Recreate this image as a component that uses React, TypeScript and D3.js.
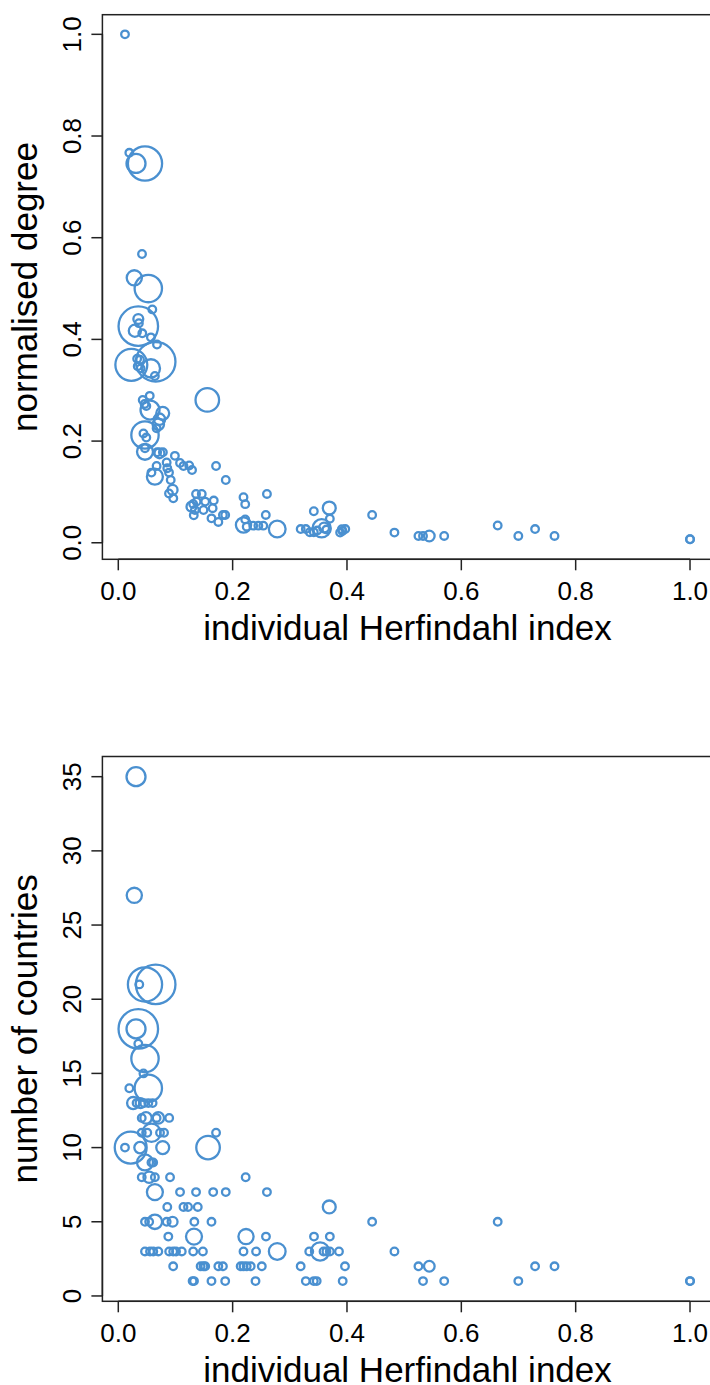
import React from "react";
import * as d3 from "d3";

// ---------- data ----------
const xTicks = [0, 0.2, 0.4, 0.6, 0.8, 1.0];
const degreeTicks = [0, 0.2, 0.4, 0.6, 0.8, 1.0];
const countryTicks = [0, 5, 10, 15, 20, 25, 30, 35];

// top panel: individual Herfindahl index vs normalised degree
const herfTop = [
  0.0117, 0.0193, 0.031, 0.0467, 0.0415, 0.028, 0.0525, 0.0595, 0.035, 0.035,
  0.036, 0.029, 0.042, 0.057, 0.0677, 0.0228, 0.0654, 0.033, 0.038, 0.034,
  0.039, 0.057, 0.064, 0.055, 0.0427, 0.046, 0.049, 0.0555, 0.0777, 0.072,
  0.07, 0.067, 0.1557, 0.0467, 0.044, 0.049, 0.0467, 0.0467, 0.068, 0.072,
  0.078, 0.099, 0.0846, 0.108, 0.114, 0.124, 0.129, 0.171, 0.188, 0.067,
  0.058, 0.064, 0.0857, 0.0887, 0.0917, 0.0887, 0.095, 0.0962, 0.136, 0.146,
  0.131, 0.137, 0.128, 0.134, 0.152, 0.149, 0.132, 0.167, 0.165, 0.163,
  0.175, 0.183, 0.187, 0.219, 0.222, 0.26, 0.258, 0.222, 0.219, 0.2246,
  0.236, 0.245, 0.2536, 0.278, 0.319, 0.328, 0.335, 0.342, 0.342, 0.369,
  0.37, 0.3557, 0.348, 0.36, 0.364, 0.388, 0.392, 0.397, 0.391, 0.444,
  0.483, 0.525, 0.533, 0.544, 0.57, 0.6636, 0.6997, 0.729, 0.763, 1.0, 1.0,
];
const degreeTop = [
  1.0, 0.767, 0.746, 0.746, 0.568, 0.521, 0.5, 0.459, 0.426, 0.44,
  0.432, 0.417, 0.412, 0.404, 0.39, 0.35, 0.356, 0.362, 0.36, 0.347,
  0.343, 0.343, 0.328, 0.289, 0.281, 0.273, 0.269, 0.261, 0.2547, 0.243,
  0.233, 0.225, 0.281, 0.212, 0.215, 0.207, 0.179, 0.186, 0.178, 0.176,
  0.178, 0.171, 0.158, 0.157, 0.151, 0.152, 0.143, 0.151, 0.1235, 0.151,
  0.138, 0.13, 0.1465, 0.138, 0.1235, 0.097, 0.104, 0.0875, 0.096, 0.096,
  0.0763, 0.081, 0.071, 0.0645, 0.081, 0.0645, 0.054, 0.083, 0.068, 0.048,
  0.041, 0.0547, 0.0547, 0.0895, 0.076, 0.096, 0.0547, 0.046, 0.035, 0.0317,
  0.0337, 0.0337, 0.0337, 0.027, 0.027, 0.027, 0.0207, 0.0207, 0.062, 0.0684,
  0.0474, 0.0285, 0.024, 0.03, 0.026, 0.02, 0.023, 0.027, 0.0266, 0.0547,
  0.02, 0.0134, 0.0134, 0.0134, 0.0134, 0.034, 0.0134, 0.027, 0.0134, 0.0069, 0.0069,
];
const sizeTop = [
  1, 1, 2.5, 4.5, 1, 2, 3.6, 1, 5.2, 1.3,
  1, 1.6, 1, 1, 1, 4.2, 5.2, 1, 1, 1,
  1, 2.4, 1, 1, 1, 1, 1, 2.5, 1.7, 1.5,
  1.5, 1, 3.1, 3.6, 1, 1, 2.1, 1, 1, 1.3,
  1, 1, 1, 1, 1, 1, 1, 1, 1, 1,
  1, 2.1, 1, 1, 1, 1, 1.3, 1, 1, 1,
  1, 1, 1.3, 1, 1, 1, 1, 1, 1, 1,
  1, 1, 1, 1, 1, 1, 1, 1, 2, 1,
  1, 1, 1, 2.2, 1, 1, 1, 1, 1, 1.7,
  1, 2.4, 1, 1.3, 1, 1, 1, 1, 1, 1,
  1, 1, 1, 1.4, 1, 1, 1, 1, 1, 1, 1,
];

// bottom panel: individual Herfindahl index vs number of countries
const herfBottom = [
  0.031, 0.028, 0.0367, 0.0467, 0.0654, 0.035, 0.031, 0.035, 0.0467, 0.044,
  0.0193, 0.0525,
  0.026, 0.032, 0.039, 0.045, 0.0525, 0.06,
  0.041, 0.0485, 0.067, 0.07, 0.089,
  0.041, 0.0507, 0.058, 0.073, 0.08, 0.171,
  0.0117, 0.0217, 0.038, 0.0777, 0.157,
  0.0467, 0.058, 0.061,
  0.041, 0.054, 0.064, 0.0905, 0.2228,
  0.064, 0.108, 0.136, 0.166, 0.188, 0.26,
  0.0857, 0.114, 0.122, 0.139, 0.369,
  0.0467, 0.054, 0.064, 0.0846, 0.095, 0.133, 0.163, 0.444, 0.6636,
  0.0875, 0.1324, 0.2234, 0.2583, 0.3423, 0.37,
  0.0467, 0.0555, 0.0612, 0.07, 0.089, 0.096, 0.101, 0.111, 0.131, 0.148,
  0.219, 0.241, 0.278, 0.334, 0.353, 0.359, 0.364, 0.37, 0.386, 0.483,
  0.096, 0.144, 0.149, 0.152, 0.175, 0.183, 0.214, 0.219, 0.2246, 0.2316,
  0.251, 0.319, 0.3965, 0.525, 0.544, 0.729, 0.763,
  0.13, 0.1324, 0.163, 0.187, 0.24, 0.328, 0.342, 0.347, 0.3925, 0.533,
  0.57, 0.6997, 1.0, 1.0,
];
const countriesBottom = [
  35, 27, 21, 21, 21, 18, 18, 17, 16, 15,
  14, 14,
  13, 13, 13, 13, 13, 13,
  12, 12, 12, 12, 12,
  11, 11, 11, 11, 11, 11,
  10, 10, 10, 10, 10,
  9, 9, 9,
  8, 8, 8, 8, 8,
  7, 7, 7, 7, 7, 7,
  6, 6, 6, 6, 6,
  5, 5, 5, 5, 5, 5, 5, 5, 5,
  4, 4, 4, 4, 4, 4,
  3, 3, 3, 3, 3, 3, 3, 3, 3, 3,
  3, 3, 3, 3, 3, 3, 3, 3, 3, 3,
  2, 2, 2, 2, 2, 2, 2, 2, 2, 2,
  2, 2, 2, 2, 2, 2, 2,
  1, 1, 1, 1, 1, 1, 1, 1, 1, 1,
  1, 1, 1, 1,
];
const sizeBottom = [
  2.5, 2, 1, 4.5, 5.2, 5.2, 2.5, 1, 3.6, 1,
  1, 3.6,
  1.6, 1, 1.3, 1, 1, 1,
  1, 1.5, 1, 1.5, 1,
  1, 1, 2.4, 1, 1, 1,
  1, 4.2, 1.5, 1.7, 3.1,
  2.1, 1, 1,
  1, 1.5, 1, 1, 1,
  2.1, 1, 1, 1, 1, 1,
  1, 1, 1, 1, 1.7,
  1, 1, 1.9, 1, 1.3, 1, 1, 1, 1,
  1, 2.1, 2, 1, 1, 1,
  1, 1, 1, 1, 1, 1, 1, 1, 1, 1,
  1, 1, 2.2, 1, 2.4, 1, 1, 1, 1, 1,
  1, 1, 1, 1, 1, 1, 1, 1, 1, 1,
  1, 1, 1, 1, 1.4, 1, 1,
  1, 1, 1, 1, 1, 1, 1, 1, 1, 1,
  1, 1, 1, 1,
];

// ---------- layout / style ----------
const W = 710;
const H = 1385;
const COLOR = "#4A90D0";
const FONT = "'Liberation Sans', Arial, Helvetica, sans-serif";
const TICK_FS = 26;
const LAB_FS = 35;
const TICK_LEN = 11;

const xScale = d3.scaleLinear().domain([-0.0278, 1.0395]).range([102.4, 712.6]);
const rScale = d3.scaleLinear().domain([0, 1]).range([0, 3.8]);

type PanelProps = {
  xs: number[];
  ys: number[];
  sizes: number[];
  yScale: d3.ScaleLinear<number, number>;
  yTicks: number[];
  yFormat: (v: number) => string;
  yLabel: string;
};

function Panel({ xs, ys, sizes, yScale, yTicks, yFormat, yLabel }: PanelProps) {
  const [x0, x1] = xScale.range();
  const [yb, yt] = yScale.range();
  const xFmt = d3.format(".1f");
  const yMid = (yb + yt) / 2;
  const xMid = (x0 + x1) / 2;
  return (
    <g>
      {/* points */}
      <g fill="none" stroke={COLOR} strokeWidth={2.3}>
        {xs.map((v, i) => (
          <circle key={i} cx={xScale(v)} cy={yScale(ys[i])} r={rScale(sizes[i])} />
        ))}
      </g>
      {/* box */}
      <rect x={x0} y={yt} width={x1 - x0} height={yb - yt} fill="none" stroke="#222" strokeWidth={1.5} />
      {/* x axis */}
      <g stroke="#222" strokeWidth={1.5}>
        <line x1={xScale(xTicks[0])} x2={xScale(xTicks[xTicks.length - 1])} y1={yb} y2={yb} />
        {xTicks.map((t) => (
          <line key={t} x1={xScale(t)} x2={xScale(t)} y1={yb} y2={yb + TICK_LEN} />
        ))}
      </g>
      <g fontFamily={FONT} fontSize={TICK_FS} textAnchor="middle" fill="#000">
        {xTicks.map((t) => (
          <text key={t} x={xScale(t)} y={yb + 40.7}>{xFmt(t)}</text>
        ))}
      </g>
      <text x={xMid} y={yb + 80.5} fontFamily={FONT} fontSize={LAB_FS} textAnchor="middle">
        individual Herfindahl index
      </text>
      {/* y axis */}
      <g stroke="#222" strokeWidth={1.5}>
        <line x1={x0} x2={x0} y1={yScale(yTicks[0])} y2={yScale(yTicks[yTicks.length - 1])} />
        {yTicks.map((t) => (
          <line key={t} x1={x0} x2={x0 - TICK_LEN} y1={yScale(t)} y2={yScale(t)} />
        ))}
      </g>
      <g fontFamily={FONT} fontSize={TICK_FS} textAnchor="middle" fill="#000">
        {yTicks.map((t) => (
          <text key={t} transform={`translate(${81},${yScale(t)}) rotate(-90)`}>{yFormat(t)}</text>
        ))}
      </g>
      <text transform={`translate(${37},${yMid}) rotate(-90)`} fontFamily={FONT} fontSize={LAB_FS} textAnchor="middle">
        {yLabel}
      </text>
    </g>
  );
}

export default function App() {
  const yTop = d3.scaleLinear().domain([-0.0325, 1.0386]).range([559.3, 14.7]);
  const yBottom = d3.scaleLinear().domain([-0.36, 36.36]).range([1301.3, 756.5]);
  return (
    <svg width={W} height={H} style={{ position: "absolute", left: 0, top: 0, background: "#fff" }}>
      <rect width={W} height={H} fill="#fff" />
      <Panel
        xs={herfTop}
        ys={degreeTop}
        sizes={sizeTop}
        yScale={yTop}
        yTicks={degreeTicks}
        yFormat={d3.format(".1f")}
        yLabel="normalised degree"
      />
      <Panel
        xs={herfBottom}
        ys={countriesBottom}
        sizes={sizeBottom}
        yScale={yBottom}
        yTicks={countryTicks}
        yFormat={d3.format("d")}
        yLabel="number of countries"
      />
    </svg>
  );
}
